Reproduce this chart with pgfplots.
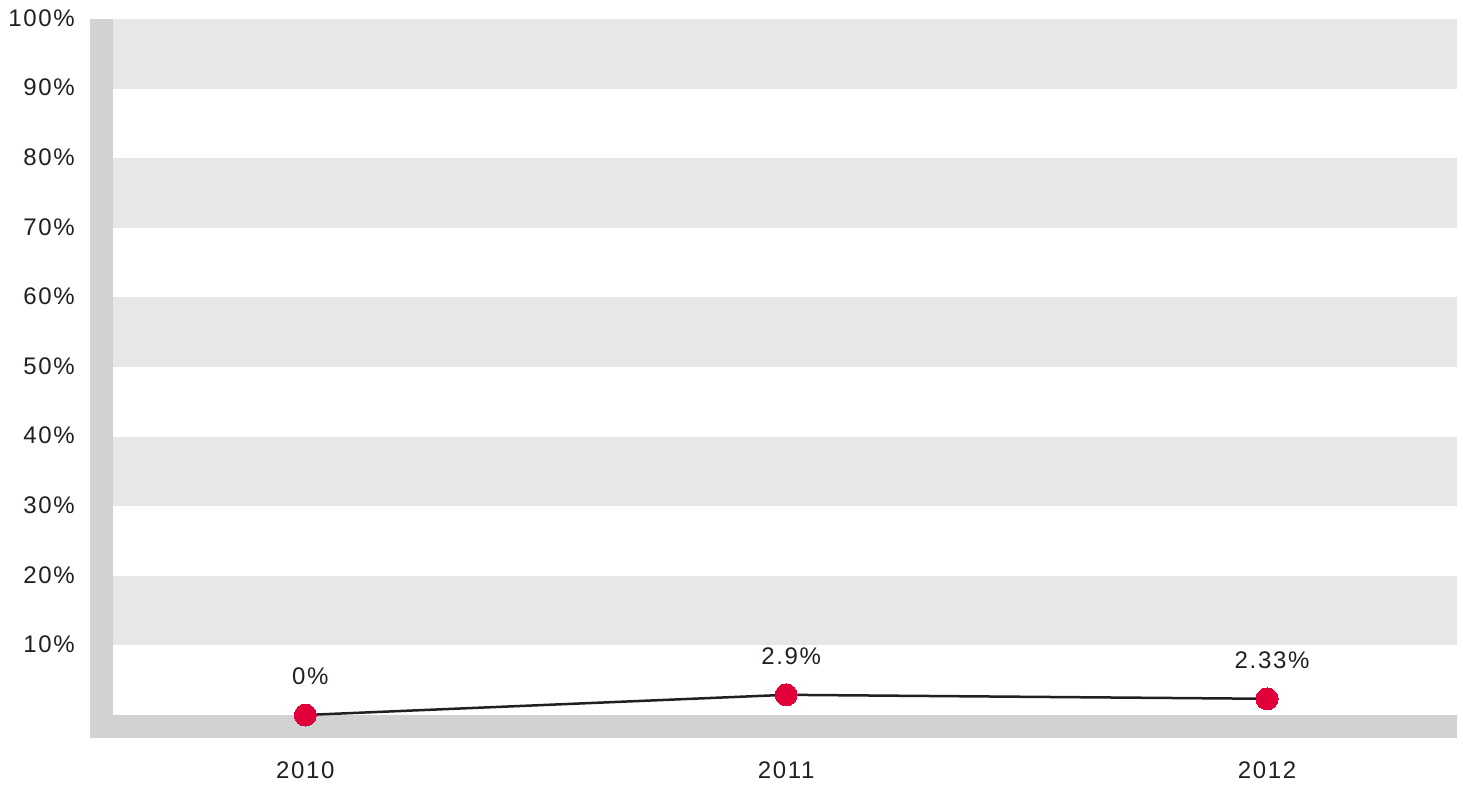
\documentclass[border=0pt]{standalone}
\usepackage{fontspec}
\setmainfont{Liberation Sans}[LetterSpace=7]
\usepackage{pgfplots}
\pgfplotsset{compat=1.18}

\definecolor{band}{HTML}{E6E7E9}
\definecolor{wall}{HTML}{D1D2D4}
\definecolor{dotred}{HTML}{E2003A}
\definecolor{ink}{HTML}{231F20}

\begin{document}
\fontsize{24}{28}\selectfont
\begin{tikzpicture}[x=1pt,y=1pt]
    \useasboundingbox (-113,-70) rectangle (1350,715);
    % grey wall and floor behind the plot
    \fill[wall] (-23,-23) rectangle (0,696);
    \fill[wall] (-23,-23) rectangle (1344,0);
    \begin{axis}[
        at={(0,0)}, anchor=south west,
        scale only axis,
        width=1344pt,
        height=696pt,
        xmin=2009.6, xmax=2012.395,
        ymin=0, ymax=100,
        axis line style={draw=none},
        tick style={draw=none},
        xtick={2010,2011,2012},
        xticklabels={2010,2011,2012},
        ytick={10,20,30,40,50,60,70,80,90,100},
        yticklabels={10\%,20\%,30\%,40\%,50\%,60\%,70\%,80\%,90\%,100\%},
        xticklabel style={font=\fontsize{24}{28}\selectfont, text=ink, inner sep=0pt, anchor=north, yshift=-47pt},
        yticklabel style={font=\fontsize{24}{28}\selectfont, text=ink, inner sep=0pt, anchor=east, xshift=-38pt, yshift=1pt},
        clip=false,
        ]
        % alternating horizontal bands
        \fill[band] (axis cs:2009.6,10) rectangle (axis cs:2012.395,20);
        \fill[band] (axis cs:2009.6,30) rectangle (axis cs:2012.395,40);
        \fill[band] (axis cs:2009.6,50) rectangle (axis cs:2012.395,60);
        \fill[band] (axis cs:2009.6,70) rectangle (axis cs:2012.395,80);
        \fill[band] (axis cs:2009.6,90) rectangle (axis cs:2012.395,100);

        \addplot[
            color=ink,
            line width=2.5pt,
            mark=*,
            mark size=11pt,
            mark options={solid, draw=dotred, fill=dotred, line width=0pt},
            point meta=explicit symbolic,
            nodes near coords,
            nodes near coords style={font=\fontsize{24}{28}\selectfont, text=ink, inner sep=0pt, anchor=center, yshift=39pt, xshift=5pt},
            ]
            coordinates {
            (2010,0)[0\%] (2011,2.9)[2.9\%] (2012,2.33)[2.33\%]
            };
    \end{axis}
\end{tikzpicture}
\end{document}
